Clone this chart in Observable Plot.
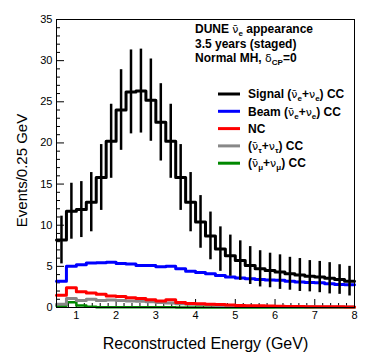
<!DOCTYPE html>
<html><head><meta charset="utf-8">
<script src="https://cdn.jsdelivr.net/npm/d3@7"></script>
<script src="https://cdn.jsdelivr.net/npm/@observablehq/plot@0.6"></script>
<style>body{margin:0;background:#fff;} svg{display:block;}</style>
</head><body><div id="chart"></div>
<script>
// Bin low edges (0.25 GeV bins from 0.5 to 8 GeV)
const binLow = d3.range(30).map(i => 0.5 + 0.25 * i);
const binWidth = 0.25;

const signal = [8.2, 11.7, 11.9, 12.8, 15.8, 20.2, 24.0, 26.2, 26.3, 25.2, 22.5, 20.2, 15.8, 12.8, 10.4, 8.7, 7.1, 6.3, 5.7, 5.1, 4.7, 4.5, 4.3, 4.1, 3.95, 3.8, 3.7, 3.55, 3.4, 3.2];
const signalErr = [2.9, 3.4, 3.4, 3.6, 4.0, 4.5, 4.9, 5.1, 5.1, 5.0, 4.7, 4.5, 4.0, 3.6, 3.2, 2.9, 2.7, 2.5, 2.4, 2.3, 2.2, 2.1, 2.1, 2.0, 2.0, 1.9, 1.9, 1.9, 1.8, 1.8];
const beam = [3.2, 5.0, 5.2, 5.4, 5.45, 5.5, 5.35, 5.3, 5.1, 5.1, 4.95, 5.0, 4.7, 4.4, 4.25, 4.1, 3.9, 3.7, 3.6, 3.5, 3.4, 3.35, 3.3, 3.2, 3.1, 3.05, 3.0, 2.9, 2.8, 2.75];
const nc = [1.5, 2.4, 1.9, 1.75, 1.6, 1.4, 1.35, 1.2, 1.1, 0.95, 0.8, 0.95, 0.6, 0.5, 0.45, 0.4, 0.35, 0.3, 0.25, 0.22, 0.2, 0.17, 0.15, 0.13, 0.12, 0.1, 0.1, 0.08, 0.08, 0.07];
const nutau = [0.4, 1.1, 0.85, 1.0, 0.85, 0.9, 0.85, 0.8, 0.75, 0.7, 0.6, 0.55, 0.45, 0.4, 0.35, 0.3, 0.25, 0.2, 0.18, 0.15, 0.13, 0.12, 0.1, 0.1, 0.08, 0.08, 0.07, 0.06, 0.05, 0.05];
const numu = [0.2, 0.65, 0.25, 0.08, 0.04, 0.03, 0.03, 0.02, 0.02, 0.02, 0.02, 0.02, 0.01, 0.01, 0.01, 0.01, 0.01, 0.01, 0.01, 0.01, 0.01, 0.01, 0.01, 0.01, 0.01, 0.01, 0.01, 0.01, 0.01, 0.01];

const xMajor = [1, 2, 3, 4, 5, 6, 7, 8];
const xMinor = d3.range(0.6, 8.0, 0.2).filter(v => Math.abs(v - Math.round(v)) > 0.05);
const yMajor = [0, 5, 10, 15, 20, 25, 30, 35];
const yMinor = d3.range(1, 35).filter(v => v % 5 !== 0);

const headerLines = [
  [{t: "DUNE "}, {t: "ν\u0304", sym: true}, {t: "e", sub: true}, {t: " appearance"}],
  [{t: "3.5 years (staged)"}],
  [{t: "Normal MH, "}, {t: "δ", sym: true}, {t: "CP", sub: true}, {t: "=0"}]
];
const legendNames = [
  [{t: "Signal ("}, {t: "ν\u0304", sym: true}, {t: "e", sub: true}, {t: "+"}, {t: "ν", sym: true}, {t: "e", sub: true}, {t: ") CC"}],
  [{t: "Beam ("}, {t: "ν\u0304", sym: true}, {t: "e", sub: true}, {t: "+"}, {t: "ν", sym: true}, {t: "e", sub: true}, {t: ") CC"}],
  [{t: "NC"}],
  [{t: "("}, {t: "ν\u0304", sym: true}, {t: "τ", sub: true}, {t: "+"}, {t: "ν", sym: true}, {t: "τ", sub: true}, {t: ") CC"}],
  [{t: "("}, {t: "ν\u0304", sym: true}, {t: "μ", sub: true}, {t: "+"}, {t: "ν", sym: true}, {t: "μ", sub: true}, {t: ") CC"}]
];
const seriesColors = ["#000000", "#0000ff", "#ff0000", "#888888", "#008800"];
const seriesWidths = [3, 3, 3, 3, 2.5];

function steps(values) {
  return values.map((v, i) => ({x: binLow[i], y: v}))
    .concat([{x: binLow[binLow.length - 1] + binWidth, y: values[values.length - 1]}]);
}
const errData = signal.map((v, i) => ({x: binLow[i] + binWidth / 2, y1: v - signalErr[i], y2: v + signalErr[i]}));

const font = "'Liberation Sans', Arial, Helvetica, sans-serif";

const chart = Plot.plot({
  width: 374, height: 363,
  marginLeft: 56, marginRight: 20, marginTop: 19, marginBottom: 56,
  style: {fontFamily: font, fontSize: "11px", background: "white", color: "black"},
  x: {domain: [0.5, 8]},
  y: {domain: [0, 35]},
  marks: [
    Plot.axisX({ticks: xMajor, tickSize: -8, tickPadding: 12, label: null, fontSize: 11}),
    Plot.axisX({ticks: xMinor, tickSize: -4, tickFormat: () => "", label: null}),
    Plot.axisY({ticks: yMajor, tickSize: -8, tickPadding: 12, label: null, fontSize: 11}),
    Plot.axisY({ticks: yMinor, tickSize: -4, tickFormat: () => "", label: null}),
    Plot.line(steps(numu), {x: "x", y: "y", curve: "step-after", stroke: seriesColors[4], strokeWidth: seriesWidths[4]}),
    Plot.line(steps(nutau), {x: "x", y: "y", curve: "step-after", stroke: seriesColors[3], strokeWidth: seriesWidths[3]}),
    Plot.line(steps(nc), {x: "x", y: "y", curve: "step-after", stroke: seriesColors[2], strokeWidth: seriesWidths[2]}),
    Plot.line(steps(beam), {x: "x", y: "y", curve: "step-after", stroke: seriesColors[1], strokeWidth: seriesWidths[1]}),
    Plot.line(steps(signal), {x: "x", y: "y", curve: "step-after", stroke: seriesColors[0], strokeWidth: seriesWidths[0]}),
    Plot.ruleX(errData, {x: "x", y1: "y1", y2: "y2", stroke: "black", strokeWidth: 2.5}),
    Plot.frame({stroke: "black", strokeWidth: 1}),
    Plot.text(["Events/0.25 GeV"], {frameAnchor: "left", textAnchor: "middle", lineAnchor: "middle", dx: -34, dy: 7, rotate: -90, fontSize: 15}),
    Plot.text(["Reconstructed Energy (GeV)"], {frameAnchor: "bottom", textAnchor: "middle", lineAnchor: "middle", dy: 36, fontSize: 16})
  ]
});
document.getElementById("chart").appendChild(chart);

// Rich text (sub/superscripts) for header and legend
const svg = d3.select(chart);
function richText(g, x, y, segs) {
  const t = g.append("text").attr("x", x).attr("y", y).attr("text-anchor", "start")
    .attr("font-family", font).attr("font-size", 12).attr("font-weight", "bold").attr("fill", "black");
  let shifted = false;
  segs.forEach(s => {
    const ts = t.append("tspan").text(s.t);
    if (s.sub) {
      ts.attr("font-size", 8).attr("dy", shifted ? 0 : 3);
      shifted = true;
    } else {
      if (shifted) { ts.attr("dy", -3); shifted = false; }
    }
    if (s.sym) ts.attr("font-weight", "normal").attr("font-family", "'DejaVu Sans', sans-serif").attr("font-size", 11);
  });
  return t;
}
const g = svg.append("g").attr("text-anchor", "start");
const headerY = [33, 47.5, 62];
headerLines.forEach((segs, i) => richText(g, 195, headerY[i], segs));
legendNames.forEach((segs, i) => {
  const cy = 94 + 17.3 * i;
  g.append("line").attr("x1", 218).attr("x2", 240).attr("y1", cy).attr("y2", cy)
    .attr("stroke", seriesColors[i]).attr("stroke-width", 3);
  richText(g, 248, cy + 4.2, segs);
});
</script>
</body></html>
